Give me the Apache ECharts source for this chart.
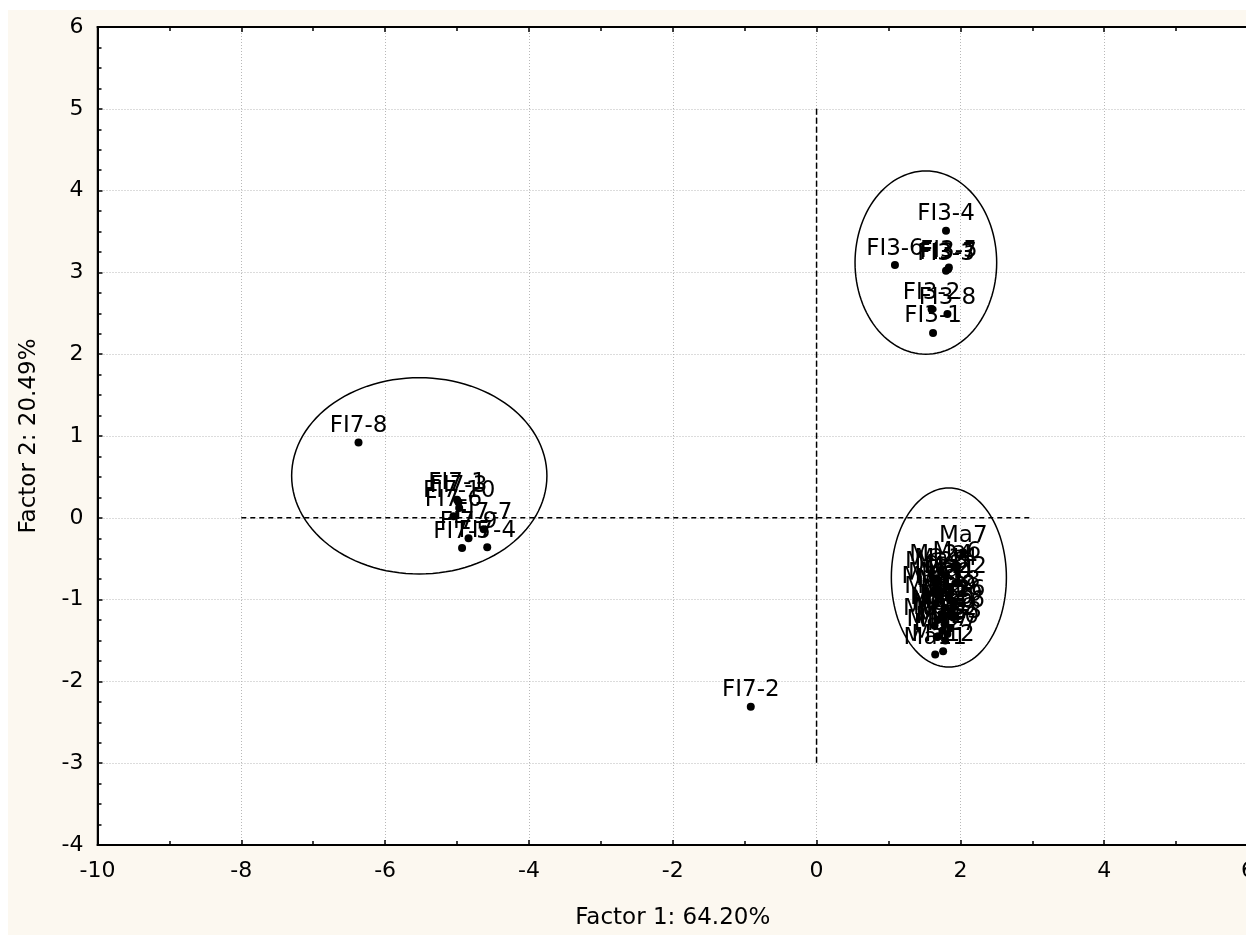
<!DOCTYPE html>
<html>
<head>
<meta charset="utf-8">
<script src="https://cdn.jsdelivr.net/npm/echarts@6/dist/echarts.min.js"></script>
<style>
  html, body { margin: 0; padding: 0; background: #ffffff; overflow: hidden; }
  #bg { position: absolute; left: 8px; top: 10px; width: 1238px; height: 925px; background: #FCF8F0; }
  #chart { position: absolute; left: 0; top: 0; width: 1246px; height: 937px; }
</style>
</head>
<body>
<div id="bg"></div>
<div id="chart"></div>
<script>
// ---- data ----
const xTitle = 'Factor 1: 64.20%';
const yTitle = 'Factor 2: 20.49%';

const fi3Names = ['FI3-4', 'FI3-6', 'FI3-3', 'FI3-5', 'FI3-7', 'FI3-2', 'FI3-8', 'FI3-1'];
const fi3X     = [1.80, 1.09, 1.80, 1.84, 1.83, 1.60, 1.82, 1.62];
const fi3Y     = [3.51, 3.09, 3.02, 3.06, 3.04, 2.55, 2.49, 2.26];

const fi7Names = ['FI7-8', 'FI7-1', 'FI7-3', 'FI7-10', 'FI7-6', 'FI7-9', 'FI7-7', 'FI7-5', 'FI7-4', 'FI7-2'];
const fi7X     = [-6.37, -5.00, -4.98, -4.97, -5.05, -4.84, -4.63, -4.93, -4.58, -0.915];
const fi7Y     = [0.92, 0.22, 0.19, 0.12, 0.02, -0.25, -0.14, -0.37, -0.36, -2.31];

const maNames = ['Ma1','Ma2','Ma3','Ma4','Ma5','Ma6','Ma7','Ma8','Ma9','Ma10',
                 'Ma11','Ma12','Ma13','Ma14','Ma15','Ma16','Ma17','Ma18','Ma19','Ma20',
                 'Ma21','Ma22','Ma23','Ma24','Ma25','Ma26','Ma27','Ma28','Ma29','Ma30'];
const maX = [1.72, 1.78, 1.68, 1.85, 1.75, 1.95, 2.04, 1.70, 1.88, 1.82,
             1.65, 1.76, 1.66, 1.80, 1.74, 1.90, 1.69, 1.84, 1.78, 1.71,
             1.62, 1.93, 1.86, 1.73, 1.64, 1.91, 1.79, 1.67, 1.87, 1.76];
const maY = [-0.95, -1.10, -1.25, -0.85, -1.38, -0.62, -0.42, -0.78, -1.02, -1.42,
             -1.67, -1.63, -1.05, -0.70, -1.18, -1.22, -1.45, -0.98, -1.30, -0.88,
             -0.92, -0.80, -1.35, -0.66, -1.32, -1.08, -1.50, -0.74, -1.14, -1.22];

// ellipses: centre x, centre y, radius x, radius y (data units)
const ellCX = [1.52, -5.525, 1.84];
const ellCY = [3.12, 0.513, -0.73];
const ellRX = [0.985, 1.775, 0.80];
const ellRY = [1.12, 1.20, 1.095];

// dashed reference lines
const hLine = [[-8, 0], [3, 0]];
const vLine = [[0, 5], [0, -3]];

// ---- build ----
function pts(names, xs, ys) {
  return names.map((n, i) => ({ name: n, value: [xs[i], ys[i]] }));
}
const ellData = ellCX.map((c, i) => [ellCX[i], ellCY[i], ellRX[i], ellRY[i]]);

const FONT = '"DejaVu Sans", Verdana, sans-serif';
const scatterCommon = {
  type: 'scatter',
  symbol: 'circle',
  symbolSize: 8,
  itemStyle: { color: '#000', opacity: 1 },
  label: {
    show: true, position: 'top', distance: 1,
    formatter: p => p.name,
    color: '#000', fontSize: 23, fontFamily: FONT
  },
  emphasis: { disabled: true },
  z: 5
};

const chart = echarts.init(document.getElementById('chart'), null, { renderer: 'canvas' });
const axisCommon = {
  type: 'value',
  axisLine: { show: true, onZero: false, lineStyle: { color: '#000', width: 2 } },
  axisTick: { show: true, inside: true, length: 5, lineStyle: { color: '#000', width: 1.5 } },
  minorTick: { show: true, length: 4, lineStyle: { color: '#000', width: 1.5 } },
  splitLine: { show: true, lineStyle: { color: '#b8b8b8', type: [1, 2], width: 1 } },
  axisLabel: { color: '#000', fontSize: 22, fontFamily: FONT },
  nameTextStyle: { color: '#000', fontSize: 23, fontFamily: FONT }
};

chart.setOption({
  animation: false,
  backgroundColor: 'transparent',
  grid: { left: 97.5, width: 1150.5, top: 27, bottom: 92, outerBoundsMode: 'none', containLabel: false,
          show: true, backgroundColor: '#fff', borderColor: '#000', borderWidth: 1.5 },
  xAxis: [
    Object.assign({}, axisCommon, {
      min: -10, max: 6, interval: 2, position: 'bottom',
      minorTick: Object.assign({}, axisCommon.minorTick, { splitNumber: 2 }),
      axisLabel: Object.assign({}, axisCommon.axisLabel, { margin: 15 }),
      name: xTitle, nameLocation: 'middle', nameGap: 62
    }),
    Object.assign({}, axisCommon, {
      min: -10, max: 6, interval: 2, position: 'top',
      minorTick: Object.assign({}, axisCommon.minorTick, { splitNumber: 2 }),
      axisLabel: { show: false }, splitLine: { show: false }
    })
  ],
  yAxis: [
    Object.assign({}, axisCommon, {
      min: -4, max: 6, interval: 1, position: 'left',
      minorTick: Object.assign({}, axisCommon.minorTick, { splitNumber: 4 }),
      axisLabel: Object.assign({}, axisCommon.axisLabel, { margin: 14 }),
      name: yTitle, nameLocation: 'middle', nameGap: 57
    })
  ],
  series: [
    {
      type: 'custom',
      data: ellData,
      renderItem: function (params, api) {
        const cx = api.value(0), cy = api.value(1), rx = api.value(2), ry = api.value(3);
        const points = [];
        const N = 120;
        for (let k = 0; k <= N; k++) {
          const t = 2 * Math.PI * k / N;
          points.push(api.coord([cx + rx * Math.cos(t), cy + ry * Math.sin(t)]));
        }
        return {
          type: 'polyline',
          shape: { points: points },
          style: { stroke: '#000', lineWidth: 1.5, fill: null }
        };
      },
      silent: true, z: 3
    },
    {
      type: 'line', data: hLine, symbol: 'none', silent: true,
      lineStyle: { color: '#000', width: 1.5, type: [5, 4] }, z: 4
    },
    {
      type: 'line', data: vLine, symbol: 'none', silent: true,
      lineStyle: { color: '#000', width: 1.5, type: [6, 3] }, z: 4
    },
    Object.assign({}, scatterCommon, { data: pts(fi3Names, fi3X, fi3Y) }),
    Object.assign({}, scatterCommon, { data: pts(fi7Names, fi7X, fi7Y) }),
    Object.assign({}, scatterCommon, { data: pts(maNames, maX, maY) })
  ]
});
</script>
</body>
</html>
